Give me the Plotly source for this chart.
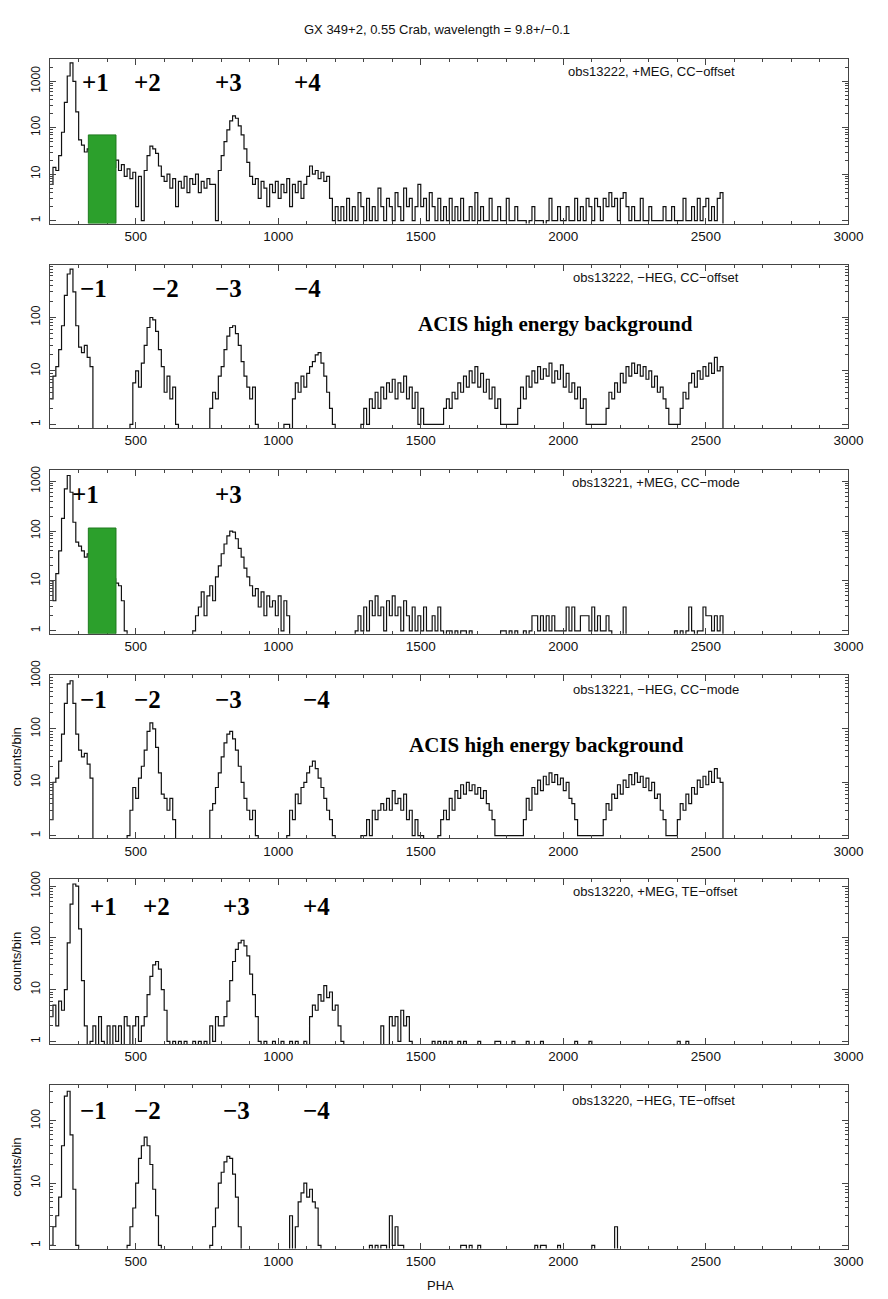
import plotly.graph_objects as go
import math

# ---------------- data (counts per 10-PHA bin, bins start at PHA 200) ----------------
BIN_START = 200
BIN_WIDTH = 10

p1_counts = [
    6, 14, 12, 25, 80, 350, 1300, 2500, 1000, 220, 55, 42, 30, 35, 28, 24, 22, 20, 18, 16,
    15, 18, 14, 20, 12, 16, 9, 13, 8, 11, 2, 9, 1, 12, 25, 40, 35, 28, 15, 9,
    7, 10, 5, 8, 2, 7, 5, 9, 4, 8, 6, 10, 4, 7, 5, 8, 6, 6, 1, 12,
    25, 50, 90, 140, 180, 160, 110, 70, 35, 18, 9, 6, 8, 3, 7, 5, 2, 6, 4, 7,
    3, 6, 4, 8, 2, 6, 4, 7, 3, 6, 9, 15, 10, 12, 8, 11, 7, 9, 3, 1,
    2, 1, 2, 1, 3, 1, 2, 1, 4, 2, 1, 3, 1, 2, 1, 5, 2, 1, 3, 2,
    1, 4, 2, 1, 5, 2, 3, 1, 2, 6, 2, 3, 1, 4, 2, 1, 3, 1, 2, 1,
    3, 1, 2, 1, 3, 1, 1, 2, 1, 4, 1, 2, 1, 1, 3, 1, 1, 2, 1, 1,
    3, 1, 1, 2, 1, 1, 1, 0, 1, 2, 1, 1, 1, 0, 1, 3, 1, 1, 2, 1,
    1, 2, 1, 1, 3, 1, 2, 1, 3, 2, 1, 3, 2, 1, 3, 2, 4, 2, 3, 1,
    3, 4, 2, 1, 2, 1, 1, 3, 1, 1, 2, 1, 1, 1, 1, 2, 1, 1, 2, 1,
    1, 1, 3, 1, 1, 2, 1, 3, 1, 2, 3, 1, 2, 1, 3, 4,
]

p2_counts = [
    3, 8, 12, 25, 70, 260, 650, 800, 300, 70, 28, 22, 30, 18, 12, 0, 0, 0, 0, 0,
    0, 0, 0, 0, 0, 0, 0, 0, 1, 6, 10, 5, 14, 30, 65, 100, 90, 55, 25, 12,
    4, 8, 3, 5, 1, 0, 0, 0, 0, 0, 0, 0, 0, 0, 0, 0, 2, 4, 3, 8,
    12, 25, 45, 65, 70, 50, 30, 15, 8, 5, 3, 5, 1, 0, 0, 0, 0, 0, 0, 0,
    0, 0, 1, 1, 0, 3, 6, 4, 8, 5, 9, 12, 15, 20, 22, 14, 8, 4, 2, 1,
    0, 0, 0, 0, 0, 0, 0, 0, 0, 1, 2, 1, 3, 2, 4, 2, 5, 3, 6, 4,
    7, 3, 6, 4, 8, 3, 5, 2, 4, 1, 2, 1, 1, 1, 1, 1, 1, 1, 2, 3,
    2, 4, 3, 6, 4, 8, 5, 10, 6, 12, 5, 9, 4, 7, 3, 5, 2, 3, 1, 1,
    1, 1, 1, 1, 2, 5, 3, 8, 5, 10, 6, 12, 7, 11, 8, 14, 6, 10, 7, 13,
    5, 9, 4, 6, 3, 5, 2, 3, 1, 1, 1, 1, 1, 1, 1, 2, 4, 3, 6, 4,
    9, 6, 12, 8, 14, 9, 13, 8, 12, 7, 10, 5, 8, 4, 5, 3, 2, 1, 1, 1,
    1, 2, 4, 3, 6, 9, 5, 10, 7, 12, 8, 14, 9, 18, 10, 12,
]

p3_counts = [
    10, 4, 14, 40, 180, 700, 1300, 600, 150, 60, 50, 40, 30, 35, 28, 25, 22, 18, 16, 14,
    12, 10, 11, 9, 8, 4, 1, 0, 0, 0, 0, 0, 0, 0, 0, 0, 0, 0, 0, 0,
    0, 0, 0, 0, 0, 0, 0, 0, 0, 0, 1, 2, 3, 6, 2, 5, 8, 4, 12, 20,
    35, 55, 80, 100, 95, 70, 45, 30, 18, 12, 8, 5, 7, 3, 6, 2, 5, 3, 4, 2,
    5, 1, 4, 2, 0, 0, 0, 0, 0, 0, 0, 0, 0, 0, 0, 0, 0, 0, 0, 0,
    0, 0, 0, 0, 0, 0, 0, 1, 2, 1, 3, 1, 4, 2, 5, 2, 3, 1, 4, 2,
    5, 2, 3, 1, 4, 2, 1, 3, 1, 2, 1, 3, 1, 1, 2, 1, 3, 1, 0, 1,
    1, 0, 1, 0, 1, 1, 0, 1, 0, 0, 0, 0, 0, 0, 0, 0, 0, 0, 1, 1,
    0, 1, 0, 1, 0, 0, 1, 0, 1, 2, 2, 1, 2, 1, 2, 1, 2, 1, 1, 1,
    1, 3, 1, 3, 1, 1, 2, 2, 2, 1, 3, 1, 2, 1, 1, 2, 1, 0, 0, 0,
    0, 3, 0, 0, 0, 0, 0, 0, 0, 0, 0, 0, 0, 0, 0, 0, 0, 0, 0, 1,
    0, 1, 0, 1, 3, 1, 0, 1, 1, 3, 2, 2, 1, 2, 1, 2,
]

p4_counts = [
    2, 10, 12, 25, 80, 300, 700, 800, 300, 80, 40, 30, 35, 22, 12, 0, 0, 0, 0, 0,
    0, 0, 0, 0, 0, 0, 0, 1, 3, 8, 5, 12, 20, 40, 90, 130, 100, 45, 15, 6,
    5, 3, 5, 2, 0, 0, 0, 0, 0, 0, 0, 0, 0, 0, 0, 0, 3, 4, 8, 15,
    30, 55, 80, 90, 65, 40, 20, 10, 5, 3, 2, 3, 1, 0, 0, 0, 0, 0, 0, 0,
    0, 0, 0, 1, 3, 2, 6, 4, 8, 10, 15, 20, 25, 18, 12, 8, 5, 3, 2, 1,
    0, 0, 0, 0, 0, 0, 0, 0, 0, 1, 1, 2, 1, 3, 2, 3, 4, 3, 5, 3,
    7, 4, 5, 3, 6, 2, 3, 1, 2, 1, 1, 0, 0, 0, 0, 0, 1, 2, 3, 2,
    5, 3, 7, 5, 9, 6, 10, 7, 9, 6, 8, 5, 7, 4, 3, 2, 1, 1, 1, 1,
    1, 1, 1, 1, 1, 1, 2, 5, 3, 8, 6, 11, 7, 13, 9, 15, 10, 14, 9, 12,
    7, 10, 5, 4, 2, 1, 1, 1, 1, 1, 1, 1, 1, 1, 2, 4, 3, 6, 5, 9,
    6, 11, 8, 14, 9, 15, 10, 13, 8, 12, 7, 10, 5, 6, 3, 2, 1, 1, 1, 1,
    2, 4, 3, 6, 4, 8, 6, 11, 8, 13, 9, 16, 10, 18, 12, 10,
]

p5_counts = [
    3, 5, 2, 6, 4, 10, 80, 450, 1100, 1000, 150, 15, 2, 0, 1, 2, 0, 3, 1, 0,
    2, 0, 2, 1, 2, 0, 3, 2, 0, 2, 3, 1, 2, 3, 8, 18, 30, 35, 25, 10,
    4, 1, 0, 1, 0, 1, 0, 1, 0, 0, 1, 0, 1, 0, 1, 0, 2, 1, 3, 2,
    2, 3, 6, 15, 35, 60, 80, 90, 70, 45, 20, 8, 3, 1, 0, 1, 0, 0, 1, 0,
    0, 1, 0, 0, 1, 0, 1, 0, 0, 1, 0, 3, 5, 4, 8, 6, 12, 7, 9, 4,
    5, 2, 1, 0, 0, 0, 0, 0, 0, 0, 0, 0, 0, 0, 0, 0, 2, 0, 0, 3,
    2, 3, 1, 4, 2, 3, 1, 0, 0, 0, 0, 0, 0, 0, 1, 0, 1, 0, 1, 0,
    1, 0, 0, 1, 0, 1, 0, 0, 0, 0, 1, 0, 0, 0, 0, 0, 1, 1, 0, 0,
    0, 0, 1, 0, 0, 0, 0, 1, 0, 0, 0, 0, 1, 0, 0, 0, 0, 0, 0, 0,
    0, 0, 0, 0, 1, 0, 0, 0, 0, 1, 0, 0, 0, 0, 0, 0, 0, 0, 0, 0,
    0, 0, 0, 0, 0, 0, 0, 0, 0, 0, 0, 0, 0, 0, 0, 0, 0, 0, 0, 0,
    1, 0, 0, 1, 0, 0, 0, 0, 0, 0, 0, 0, 0, 0, 0, 0,
]

p6_counts = [
    1, 2, 3, 6, 40, 250, 300, 60, 8, 1, 0, 0, 0, 0, 0, 0, 0, 0, 0, 0,
    0, 0, 0, 0, 0, 0, 0, 1, 2, 4, 10, 25, 40, 55, 40, 20, 8, 3, 1, 0,
    0, 0, 0, 0, 0, 0, 0, 0, 0, 0, 0, 0, 0, 0, 0, 0, 1, 2, 4, 10,
    15, 22, 27, 25, 14, 6, 2, 0, 0, 0, 0, 0, 0, 0, 0, 0, 0, 0, 0, 0,
    0, 0, 0, 0, 3, 0, 2, 5, 7, 10, 6, 8, 5, 4, 1, 0, 0, 0, 0, 0,
    0, 0, 0, 0, 0, 0, 0, 0, 0, 0, 0, 0, 1, 0, 1, 0, 1, 1, 0, 3,
    1, 2, 1, 1, 0, 0, 0, 0, 0, 0, 0, 0, 0, 0, 0, 0, 0, 0, 0, 0,
    0, 0, 0, 0, 1, 1, 0, 1, 0, 0, 1, 0, 0, 0, 0, 0, 0, 0, 0, 0,
    0, 0, 0, 0, 0, 0, 0, 0, 0, 0, 1, 0, 1, 1, 0, 0, 0, 0, 1, 0,
    0, 0, 0, 0, 0, 0, 0, 0, 0, 0, 1, 0, 0, 0, 0, 0, 0, 0, 2, 0,
    0, 0, 0, 0, 0, 0, 0, 0, 0, 0, 0, 0, 0, 0, 0, 0, 0, 0, 0, 0,
    0, 0, 0, 0, 0, 0, 0, 0, 0, 0, 0, 0, 0, 0, 0, 0,
]

panel_titles = [
    "obs13222, +MEG, CC\u2212offset",
    "obs13222, \u2212HEG, CC\u2212offset",
    "obs13221, +MEG, CC\u2212mode",
    "obs13221, \u2212HEG, CC\u2212mode",
    "obs13220, +MEG, TE\u2212offset",
    "obs13220, \u2212HEG, TE\u2212offset",
]

order_labels = [
    ["+1", "+2", "+3", "+4"],
    ["\u22121", "\u22122", "\u22123", "\u22124"],
    ["+1", "+3"],
    ["\u22121", "\u22122", "\u22123", "\u22124"],
    ["+1", "+2", "+3", "+4"],
    ["\u22121", "\u22122", "\u22123", "\u22124"],
]

x_tick_values = [500, 1000, 1500, 2000, 2500, 3000]
y_tick_values = [1, 10, 100, 1000]

# excluded PHA band (green box) on the +MEG CC panels: [PHA lo, PHA hi, top count]
green_band = {0: (334, 431, 70), 2: (334, 431, 115)}

# ---------------- layout geometry (pixels) ----------------
W, H = 888, 1299
X_LEFT, X_RIGHT = 51, 863
panel_px = [(45, 211), (253, 418), (460, 626), (668, 833), (874, 1041), (1083, 1248)]
y_log_ranges = [(-0.064, 3.47), (-0.07, 2.98), (-0.06, 3.23), (-0.05, 3.005), (-0.05, 3.14), (-0.05, 2.57)]
label_px = [
    [(97, 68), (150, 68), (232, 68), (313, 68)],
    [(95, 277), (168, 277), (232, 277), (313, 277)],
    [(87, 485), (232, 485)],
    [(95, 693), (150, 693), (232, 693), (322, 693)],
    [(105, 902), (159, 902), (241, 902), (322, 902)],
    [(95, 1108), (150, 1108), (241, 1108), (322, 1108)],
]
obs_px = [(663, 57), (667, 266), (667, 473), (667, 682), (667, 887), (665, 1098)]
acis_px = {1: (565, 313), 3: (556, 739)}
counts_title = {3, 4, 5}

FLOOR = 0.3
LINE_COL = "#111111"
AX_COL = "#444444"
SANS = "Liberation Sans, Arial, sans-serif"
SERIF = "Liberation Serif, Times New Roman, serif"


def px_x(x):
    return x / W


def px_y(y):
    return 1 - y / H


minor_y = []
for dec in [1, 10, 100, 1000]:
    for m in range(2, 10):
        minor_y.append(m * dec)

fig = go.Figure()
all_counts = [p1_counts, p2_counts, p3_counts, p4_counts, p5_counts, p6_counts]
annotations = []
shapes = []
layout_axes = {}

for i, counts in enumerate(all_counts):
    n = i + 1
    xs = [BIN_START + BIN_WIDTH * k for k in range(len(counts))]
    ys = [c if c > 0 else FLOOR for c in counts]
    xs = xs + [BIN_START + BIN_WIDTH * len(counts)]
    ys = ys + [FLOOR]
    fig.add_trace(go.Scatter(
        x=xs, y=ys, mode="lines",
        line=dict(shape="hv", color=LINE_COL, width=1.2),
        xaxis="x" if n == 1 else f"x{n}", yaxis="y" if n == 1 else f"y{n}",
        showlegend=False, hoverinfo="skip",
    ))
    top, bot = panel_px[i]
    lo, hi = y_log_ranges[i]
    xkey = "xaxis" if n == 1 else f"xaxis{n}"
    ykey = "yaxis" if n == 1 else f"yaxis{n}"
    layout_axes[xkey] = dict(
        domain=[px_x(X_LEFT), px_x(X_RIGHT)], range=[200, 3000],
        anchor="y" if n == 1 else f"y{n}",
        tickmode="array", tickvals=x_tick_values, ticks="inside", ticklen=6,
        tickcolor=AX_COL, showline=True, linecolor=AX_COL, linewidth=1, mirror="ticks",
        minor=dict(dtick=100, tick0=0, ticks="inside", ticklen=3, tickcolor=AX_COL),
        tickfont=dict(family=SANS, size=13.5, color="#111"),
        showgrid=False, zeroline=False,
    )
    yv = [v for v in y_tick_values if lo <= math.log10(v) <= hi]
    ydict = dict(
        type="log", domain=[px_y(bot), px_y(top)], range=[lo, hi],
        anchor="x" if n == 1 else f"x{n}",
        tickmode="array", tickvals=yv, ticktext=[str(v) for v in yv], tickangle=-90,
        ticks="inside", ticklen=6, tickcolor=AX_COL,
        showline=True, linecolor=AX_COL, linewidth=1, mirror="ticks",
        minor=dict(tickmode="array", tickvals=minor_y, ticks="inside", ticklen=3, tickcolor=AX_COL),
        tickfont=dict(family=SANS, size=12, color="#111"),
        ticklabelstandoff=4,
        showgrid=False, zeroline=False,
    )
    if i in counts_title:
        ydict["title"] = dict(text="counts/bin", font=dict(family=SANS, size=13, color="#111"), standoff=4)
    layout_axes[ykey] = ydict

    # order labels
    for txt, (lx, ly) in zip(order_labels[i], label_px[i]):
        annotations.append(dict(
            x=px_x(lx), y=px_y(ly), xref="paper", yref="paper", text=f"<b>{txt}</b>",
            showarrow=False, xanchor="center", yanchor="middle",
            font=dict(family=SERIF, size=25, color="black"),
        ))
    ox, oy = obs_px[i]
    annotations.append(dict(
        x=px_x(ox), y=px_y(oy), xref="paper", yref="paper", text=panel_titles[i],
        showarrow=False, xanchor="center", yanchor="middle",
        font=dict(family=SANS, size=13, color="#111"),
    ))
    if i in acis_px:
        ax_, ay_ = acis_px[i]
        annotations.append(dict(
            x=px_x(ax_), y=px_y(ay_), xref="paper", yref="paper",
            text="<b>ACIS high energy background</b>",
            showarrow=False, xanchor="center", yanchor="middle",
            font=dict(family=SERIF, size=21, color="black"),
        ))
    if i in green_band:
        g0, g1, gtop = green_band[i]
        shapes.append(dict(
            type="rect", xref="x" if n == 1 else f"x{n}", yref="y" if n == 1 else f"y{n}",
            x0=g0, x1=g1, y0=10 ** lo, y1=gtop,
            fillcolor="#2ca02c", line=dict(color="#1f7a1f", width=1), layer="above",
        ))

annotations.append(dict(
    x=px_x(445), y=px_y(15), xref="paper", yref="paper",
    text="GX 349+2, 0.55 Crab, wavelength = 9.8+/\u22120.1",
    showarrow=False, xanchor="center", yanchor="middle",
    font=dict(family=SANS, size=13, color="#111"),
))
annotations.append(dict(
    x=px_x(448), y=px_y(1285), xref="paper", yref="paper", text="PHA",
    showarrow=False, xanchor="center", yanchor="middle",
    font=dict(family=SANS, size=13, color="#111"),
))

fig.update_layout(
    width=W, height=H, margin=dict(l=0, r=0, t=0, b=0),
    paper_bgcolor="white", plot_bgcolor="white",
    annotations=annotations, shapes=shapes, **layout_axes,
)

fig.write_html("out.html")
